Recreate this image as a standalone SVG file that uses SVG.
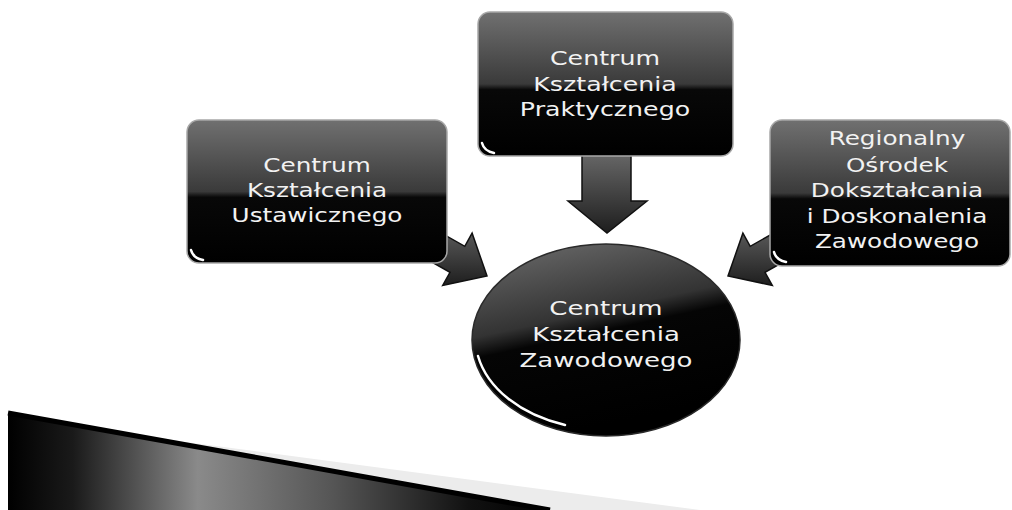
<svg xmlns="http://www.w3.org/2000/svg" width="1012" height="510" viewBox="0 0 1012 510">
  <defs>
    <linearGradient id="boxGrad" x1="0" y1="0" x2="0" y2="1">
      <stop offset="0" stop-color="#707070"/>
      <stop offset="0.5" stop-color="#3a3a3a"/>
      <stop offset="0.54" stop-color="#080808"/>
      <stop offset="1" stop-color="#000000"/>
    </linearGradient>
    <linearGradient id="circGrad" x1="0" y1="0" x2="0.3" y2="1">
      <stop offset="0" stop-color="#6e6e6e"/>
      <stop offset="0.45" stop-color="#333333"/>
      <stop offset="0.55" stop-color="#050505"/>
      <stop offset="1" stop-color="#000000"/>
    </linearGradient>
    <linearGradient id="arrowGrad" x1="0" y1="0" x2="0" y2="1">
      <stop offset="0" stop-color="#6a6a6a"/>
      <stop offset="1" stop-color="#1e1e1e"/>
    </linearGradient>
    <linearGradient id="wedgeGrad" x1="0" y1="0" x2="1" y2="0">
      <stop offset="0" stop-color="#000000"/>
      <stop offset="0.12" stop-color="#1a1a1a"/>
      <stop offset="0.35" stop-color="#8a8a8a"/>
      <stop offset="0.6" stop-color="#555555"/>
      <stop offset="0.85" stop-color="#111111"/>
      <stop offset="1" stop-color="#000000"/>
    </linearGradient>
    <style>
      .box { fill: url(#boxGrad); stroke: #a8a8a8; stroke-width: 1.5; }
      .circ { fill: url(#circGrad); stroke: #2a2a2a; stroke-width: 1.5; }
      .arrow { fill: url(#arrowGrad); stroke: #111111; stroke-width: 1.5; stroke-linejoin: miter; }
      .hl { fill: none; stroke: #ffffff; stroke-width: 2.5; stroke-linecap: round; }
      .lbl { font-family: "DejaVu Sans", "Liberation Sans", sans-serif; font-size: 19px; fill: #f2f2f2; text-anchor: middle; }
      .lblc { font-family: "DejaVu Sans", "Liberation Sans", sans-serif; font-size: 20px; fill: #f2f2f2; text-anchor: middle; }
    </style>
  </defs>
  <rect width="1012" height="510" fill="#ffffff"/>

  <g id="decoration">
    <polygon points="140,436 700,510 540,510" fill="#ececec"/>
    <polygon points="8,413 550,510 8,510" fill="url(#wedgeGrad)"/>
    <line x1="8" y1="413" x2="550" y2="510" stroke="#000000" stroke-width="5"/>
  </g>

  <g id="connectors">
    <polygon class="arrow" points="582,150 631,150 631,201 647,201 607,233 568,201 582,201"/>
    <polygon class="arrow" points="412.6,216.8 464.8,246.3 472.1,233.2 487,276 442.7,285.4 450,272.4 397.9,242.9"/>
    <polygon class="arrow" points="802.4,216.8 750.2,246.3 742.9,233.2 728,276 772.3,285.4 765,272.4 817.1,242.9"/>
  </g>

  <g id="node-ustawicznego">
    <rect class="box" x="187" y="120" width="260" height="143" rx="12"/>
    <path class="hl" d="M191,250 Q193,258 203,260"/>
    <text class="lbl" transform="translate(317 0) scale(1.3 1)" x="0" y="172">Centrum</text>
    <text class="lbl" transform="translate(317 0) scale(1.3 1)" x="0" y="197">Kształcenia</text>
    <text class="lbl" transform="translate(317 0) scale(1.3 1)" x="0" y="222">Ustawicznego</text>
  </g>

  <g id="node-praktycznego">
    <rect class="box" x="478" y="12" width="255" height="144" rx="12"/>
    <path class="hl" d="M482,143 Q484,151 494,153"/>
    <text class="lbl" transform="translate(605 0) scale(1.33 1)" x="0" y="65">Centrum</text>
    <text class="lbl" transform="translate(605 0) scale(1.33 1)" x="0" y="91">Kształcenia</text>
    <text class="lbl" transform="translate(605 0) scale(1.33 1)" x="0" y="116">Praktycznego</text>
  </g>

  <g id="node-rodidz">
    <rect class="box" x="770" y="120" width="240" height="146" rx="12"/>
    <path class="hl" d="M774,252 Q776,260 786,262"/>
    <text class="lbl" transform="translate(897 0) scale(1.3 1)" x="0" y="145">Regionalny</text>
    <text class="lbl" transform="translate(897 0) scale(1.3 1)" x="0" y="172">Ośrodek</text>
    <text class="lbl" transform="translate(897 0) scale(1.3 1)" x="0" y="197">Dokształcania</text>
    <text class="lbl" transform="translate(897 0) scale(1.3 1)" x="0" y="223">i Doskonalenia</text>
    <text class="lbl" transform="translate(897 0) scale(1.3 1)" x="0" y="248">Zawodowego</text>
  </g>

  <g id="node-zawodowego">
    <ellipse class="circ" cx="606" cy="340" rx="134" ry="96"/>
    <path class="hl" d="M478,356 A130,92 0 0,0 565,425"/>
    <text class="lblc" transform="translate(606 0) scale(1.3 1)" x="0" y="315">Centrum</text>
    <text class="lblc" transform="translate(606 0) scale(1.3 1)" x="0" y="341">Kształcenia</text>
    <text class="lblc" transform="translate(606 0) scale(1.3 1)" x="0" y="367">Zawodowego</text>
  </g>
</svg>
